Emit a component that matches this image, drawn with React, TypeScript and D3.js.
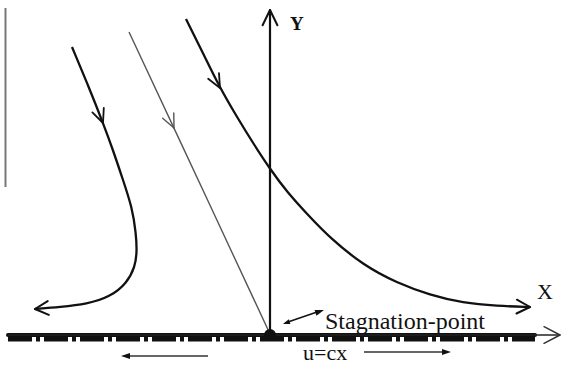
import { useEffect, useRef } from 'react';
import * as d3 from 'd3';

// Streamlines in plane coordinates (origin = stagnation point, 1 unit = 100px)
const leftStream: [number, number][] = [
  [-1.98, 2.87], [-1.82, 2.49], [-1.67, 2.11], [-1.57, 1.84], [-1.47, 1.54],
  [-1.38, 1.27], [-1.34, 1.01], [-1.33, 0.82], [-1.35, 0.67], [-1.43, 0.51],
  [-1.60, 0.37], [-1.83, 0.30], [-2.10, 0.27], [-2.35, 0.25],
];
const centerStream: [number, number][] = [[-1.41, 3.02], [-0.96, 2.06], [0, 0]];
const rightStream: [number, number][] = [
  [-0.84, 3.15], [-0.67, 2.81], [-0.50, 2.46], [-0.33, 2.17], [-0.17, 1.91],
  [0, 1.65], [0.17, 1.42], [0.38, 1.19], [0.60, 0.96], [0.93, 0.69],
  [1.27, 0.51], [1.60, 0.39], [1.93, 0.31], [2.27, 0.28], [2.60, 0.27],
];
// index of point where the mid arrow sits
const midArrowIdx = [2, 1, 2];

const xAxisSpan = [-2.62, 2.9];
const yAxisTop = 3.24;
const wallEnd = 2.65;

const labels = ['X', 'Y', 'Stagnation-point', 'u=cx'];

export default function App() {
  const svgRef = useRef<SVGSVGElement>(null);

  useEffect(() => {
    if (!svgRef.current) return;
    const width = 563;
    const height = 365;
    const svg = d3.select(svgRef.current);
    svg.selectAll('*').remove();
    svg.attr('width', width).attr('height', height);

    const x = d3.scaleLinear().domain([0, 1]).range([270, 370]);
    const y = d3.scaleLinear().domain([0, 1]).range([334, 234]);

    const line = d3
      .line<[number, number]>()
      .x((d) => x(d[0]))
      .y((d) => y(d[1]))
      .curve(d3.curveBasis);

    // open V arrowhead at pixel tip, pointing in direction angle a
    const openHead = (px: number, py: number, a: number, len = 14, spread = 0.45, color = '#111', w = 2) => {
      [a + Math.PI - spread, a + Math.PI + spread].forEach((b) => {
        svg.append('line')
          .attr('x1', px).attr('y1', py)
          .attr('x2', px + len * Math.cos(b)).attr('y2', py + len * Math.sin(b))
          .attr('stroke', color).attr('stroke-width', w).attr('stroke-linecap', 'round');
      });
    };
    const filledHead = (px: number, py: number, a: number, len = 8, half = 3) => {
      const bx = px - len * Math.cos(a);
      const by = py - len * Math.sin(a);
      const nx = -Math.sin(a) * half;
      const ny = Math.cos(a) * half;
      svg.append('path')
        .attr('d', `M${px},${py}L${bx + nx},${by + ny}L${bx - nx},${by - ny}Z`)
        .attr('fill', '#111');
    };
    const dirAt = (pts: [number, number][], i: number) => {
      const a = pts[Math.max(0, i - 1)];
      const b = pts[Math.min(pts.length - 1, i + 1)];
      return Math.atan2(y(b[1]) - y(a[1]), x(b[0]) - x(a[0]));
    };

    // grey vertical bar at left
    svg.append('line')
      .attr('x1', 5.5).attr('x2', 5.5).attr('y1', 8).attr('y2', 187)
      .attr('stroke', '#777').attr('stroke-width', 2);

    // wall band
    svg.append('line')
      .attr('x1', x(xAxisSpan[0])).attr('x2', x(wallEnd))
      .attr('y1', y(0) + 1).attr('y2', y(0) + 1)
      .attr('stroke', '#111').attr('stroke-width', 4)
      .attr('stroke-linecap', 'round');
    svg.append('line')
      .attr('x1', x(xAxisSpan[0])).attr('x2', x(wallEnd))
      .attr('y1', y(0) + 5).attr('y2', y(0) + 5)
      .attr('stroke', '#111').attr('stroke-width', 5)
      .attr('stroke-dasharray', '24,4,4,4');

    // X axis
    svg.append('line')
      .attr('x1', x(xAxisSpan[0])).attr('x2', x(xAxisSpan[1]))
      .attr('y1', y(0) + 1).attr('y2', y(0) + 1)
      .attr('stroke', '#222').attr('stroke-width', 1.5);
    openHead(x(xAxisSpan[1]), y(0) + 1, 0, 18, 0.48, '#333', 1.5);

    // Y axis
    svg.append('line')
      .attr('x1', x(0)).attr('x2', x(0)).attr('y1', y(0)).attr('y2', y(yAxisTop))
      .attr('stroke', '#111').attr('stroke-width', 2.2);
    openHead(x(0), y(yAxisTop), -Math.PI / 2, 17, 0.45, '#111', 2);

    // streamlines
    const streams = [leftStream, centerStream, rightStream];
    streams.forEach((pts, k) => {
      const thin = k === 1;
      svg.append('path')
        .attr('d', line(pts) as string)
        .attr('fill', 'none')
        .attr('stroke', thin ? '#555' : '#111')
        .attr('stroke-width', thin ? 1.4 : 2.3);
      const i = midArrowIdx[k];
      openHead(x(pts[i][0]), y(pts[i][1]), dirAt(pts, i), 15, 0.42, thin ? '#555' : '#111', thin ? 1.4 : 1.8);
    });
    // end arrows
    [leftStream, rightStream].forEach((pts) => {
      const n = pts.length - 1;
      const a = Math.atan2(y(pts[n][1]) - y(pts[n - 1][1]), x(pts[n][0]) - x(pts[n - 1][0]));
      openHead(x(pts[n][0]), y(pts[n][1]), a, 15, 0.48, '#111', 2);
    });

    // stagnation point
    svg.append('circle')
      .attr('cx', x(0)).attr('cy', y(0) + 1).attr('r', 6).attr('fill', '#111');

    // pointer from text to point
    svg.append('line')
      .attr('x1', 285).attr('y1', 323).attr('x2', 320).attr('y2', 311)
      .attr('stroke', '#111').attr('stroke-width', 1.5);
    filledHead(324, 310, Math.atan2(-12, 35), 9, 3);
    filledHead(283, 324, Math.atan2(12, -35), 7, 2.5);

    // velocity arrows under wall
    svg.append('line')
      .attr('x1', 208).attr('x2', 128).attr('y1', 356).attr('y2', 356)
      .attr('stroke', '#333').attr('stroke-width', 1.6);
    filledHead(121, 356, Math.PI, 9, 3);
    svg.append('line')
      .attr('x1', 364).attr('x2', 444).attr('y1', 352).attr('y2', 352)
      .attr('stroke', '#333').attr('stroke-width', 1.6);
    filledHead(451, 352, 0, 9, 3);

    const font = "'Liberation Serif', 'DejaVu Serif', serif";
    const addText = (tx: number, ty: number, size: number, s: string, bold = false) =>
      svg.append('text')
        .attr('x', tx).attr('y', ty)
        .style('font-family', font)
        .style('font-size', `${size}px`)
        .style('font-weight', bold ? 'bold' : 'normal')
        .attr('fill', '#111')
        .text(s);
    addText(537, 299, 22, labels[0]);
    addText(290, 30, 19, labels[1], true);
    addText(325, 329, 24, labels[2]);
    addText(303, 360, 22, labels[3]);
  }, []);

  return (
    <svg
      ref={svgRef}
      style={{ position: 'fixed', left: 0, top: 0, background: '#fff' }}
    />
  );
}
